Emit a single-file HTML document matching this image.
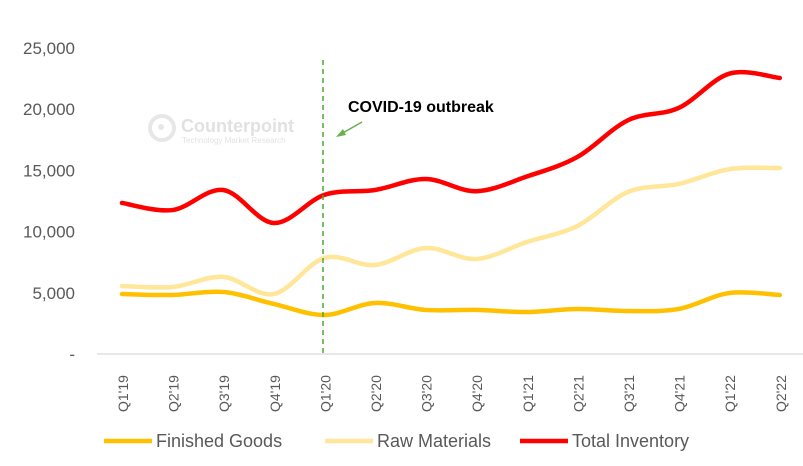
<!DOCTYPE html>
<html><head><meta charset="utf-8"><style>
body{margin:0;background:#fff;width:803px;height:461px;overflow:hidden;font-family:"Liberation Sans",sans-serif}
</style></head><body>
<svg id="chart" width="803" height="461" xmlns="http://www.w3.org/2000/svg">
<g id="wm" opacity="0.35">
<circle cx="162" cy="128" r="12" fill="none" stroke="#bbb" stroke-width="4"/>
<circle cx="161" cy="127" r="3" fill="#bbb"/>
<text x="181" y="132" font-size="18" font-weight="bold" fill="#aaa">Counterpoint</text>
<text x="182" y="143" font-size="8" fill="#aaa">Technology Market Research</text>
</g>
<g id="yaxis"></g>
<g id="xaxis"></g>
<g id="series"></g>
<line x1="323" y1="60" x2="323" y2="354" stroke="#4aa832" stroke-width="1.5" stroke-dasharray="5,4"/>
<text x="348" y="112" font-size="16" font-weight="bold" fill="#000">COVID-19 outbreak</text>
<g>
<line x1="362" y1="122" x2="341" y2="134" stroke="#6ab04c" stroke-width="1.5"/>
<polygon points="336,137 343,129 346,135" fill="#6ab04c"/>
</g>
<g id="legend"></g>
</svg>
<script>
const categories=["Q1'19","Q2'19","Q3'19","Q4'19","Q1'20","Q2'20","Q3'20","Q4'20","Q1'21","Q2'21","Q3'21","Q4'21","Q1'22","Q2'22"];
const finishedGoods=[4900,4820,5070,4090,3190,4170,3600,3600,3430,3680,3510,3680,4980,4820];
const rawMaterials=[5550,5470,6300,4900,7850,7270,8660,7760,9150,10460,13240,13890,15100,15200];
const totalInventory=[12340,11760,13400,10700,13000,13400,14300,13300,14500,16100,19100,20100,22900,22550];
const yTicks=[0,5000,10000,15000,20000,25000];
const yTickLabels=["-","5,000","10,000","15,000","20,000","25,000"];
const NS="http://www.w3.org/2000/svg";
const x=i=>122+i*50.6;
const y=v=>354-v/25000*306;
function mk(t,a,p){const e=document.createElementNS(NS,t);for(const k in a)e.setAttribute(k,a[k]);p.appendChild(e);return e;}
const ya=document.getElementById('yaxis');
yTicks.forEach((v,i)=>{const t=mk('text',{x:75,y:y(v)+6,'text-anchor':'end','font-size':17,fill:'#595959'},ya);t.textContent=yTickLabels[i];

});
const xa=document.getElementById('xaxis');
mk('line',{x1:97,y1:354,x2:803,y2:354,stroke:'#d0d0d0','stroke-width':1},xa);
categories.forEach((c,i)=>{const t=mk('text',{transform:`translate(${x(i)+6},412) rotate(-90)`,'font-size':14,fill:'#595959'},xa);t.textContent=c;

});
function path(vals){const p=vals.map((v,i)=>[x(i),y(v)]);let d=`M${p[0][0]},${p[0][1]}`;
for(let i=0;i<p.length-1;i++){const p0=p[Math.max(0,i-1)],p1=p[i],p2=p[i+1],p3=p[Math.min(p.length-1,i+2)];const k=6;
d+=` C${p1[0]+(p2[0]-p0[0])/k},${p1[1]+(p2[1]-p0[1])/k} ${p2[0]-(p3[0]-p1[0])/k},${p2[1]-(p3[1]-p1[1])/k} ${p2[0]},${p2[1]}`;}return d;}
const sg=document.getElementById('series');
const S=[[finishedGoods,'#ffc000','Finished Goods','finished-goods-line'],[rawMaterials,'#ffe699','Raw Materials','raw-materials-line'],[totalInventory,'#ff0000','Total Inventory','total-inventory-line']];
S.forEach(s=>{const e=mk('path',{d:path(s[0]),fill:'none',stroke:s[1],'stroke-width':4.5,'stroke-linecap':'round'},sg);

});
const lg=document.getElementById('legend');const lx=[104,325,520];
S.forEach((s,i)=>{const g=mk('g',{},lg);


mk('line',{x1:lx[i],y1:441,x2:lx[i]+48,y2:441,stroke:s[1],'stroke-width':4.5},g);
const t=mk('text',{x:lx[i]+52,y:447,'font-size':18,fill:'#595959'},g);t.textContent=s[2];});
</script>
</body></html>
